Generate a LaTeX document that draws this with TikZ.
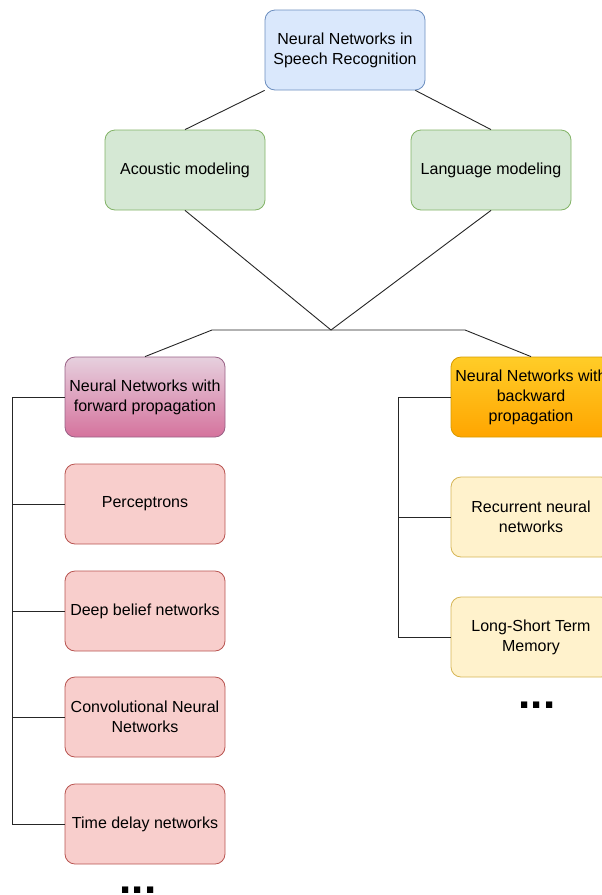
\documentclass[tikz,border=0pt]{standalone}
\usepackage{fontspec}
\setmainfont{Liberation Sans}
\usepackage{xcolor}
\usepackage{tikz}
\usetikzlibrary{positioning}

\definecolor{blueFill}{HTML}{DAE8FC}
\definecolor{blueLine}{HTML}{6C8EBF}
\definecolor{greenFill}{HTML}{D5E8D4}
\definecolor{greenLine}{HTML}{82B366}
\definecolor{pinkTop}{HTML}{E6D0DE}
\definecolor{pinkBottom}{HTML}{D5739D}
\definecolor{pinkLine}{HTML}{996185}
\definecolor{orangeTop}{HTML}{FFCD28}
\definecolor{orangeBottom}{HTML}{FFA500}
\definecolor{orangeLine}{HTML}{D79B00}
\definecolor{redFill}{HTML}{F8CECC}
\definecolor{redLine}{HTML}{B85450}
\definecolor{yellowFill}{HTML}{FFF2CC}
\definecolor{yellowLine}{HTML}{D6B656}

\begin{document}
\begin{tikzpicture}[
        x=1pt, y=-1pt,
        box/.style={draw, rounded corners=10pt, line width=0.8pt, minimum width=160pt, minimum height=80pt, align=center, inner sep=2pt, font=\fontsize{16}{20}\selectfont},
        root/.style={box, fill=blueFill, draw=blueLine},
        task/.style={box, fill=greenFill, draw=greenLine},
        forwardbox/.style={box, top color=pinkTop, bottom color=pinkBottom, draw=pinkLine},
        backwardbox/.style={box, top color=orangeTop, bottom color=orangeBottom, draw=orangeLine},
        fwditem/.style={box, fill=redFill, draw=redLine},
        bwditem/.style={box, fill=yellowFill, draw=yellowLine},
        more/.style={anchor=base, font=\fontsize{44}{44}\selectfont\bfseries},
        link/.style={-, line width=0.9pt, draw=black!85}
    ]
        \path[use as bounding box, clip] (0,0) rectangle (602,895);

        % Top levels
        \node (nnsr) [root] at (345, 50) {Neural Networks in\\Speech Recognition};
        \node (acoustic) [task] at (185, 170) {Acoustic modeling};
        \node (language) [task] at (491, 170) {Language modeling};

        % Branches
        \node (forward) [forwardbox] at (145, 397) {Neural Networks with\\forward propagation};
        \node (backward) [backwardbox] at (531, 397) {Neural Networks with\\backward\\propagation};

        % Forward propagation networks
        \node (perceptrons) [fwditem] at (145, 504) {Perceptrons};
        \node (dbn) [fwditem] at (145, 611) {Deep belief networks};
        \node (cnn) [fwditem] at (145, 717) {Convolutional Neural\\Networks};
        \node (tdnn) [fwditem] at (145, 824) {Time delay networks};
        \node (fwdmore) [more] at (138, 893) {...};

        % Backward propagation networks
        \node (rnn) [bwditem] at (531, 517) {Recurrent neural\\networks};
        \node (lstm) [bwditem] at (531, 637) {Long-Short Term\\Memory};
        \node (bwdmore) [more] at (537, 708) {...};

        % Helper points
        \coordinate (merge) at (331, 330);
        \coordinate (splitL) at (212, 330);
        \coordinate (splitR) at (465, 330);
        \coordinate (fwdbus) at (12, 0);
        \coordinate (bwdbus) at (398, 0);

        % Upper connections
        \draw [link] (nnsr.south west) -- (acoustic.north);
        \draw [link] ([xshift=-10pt]nnsr.south east) -- (language.north);
        \draw [link] (acoustic.south) -- (merge);
        \draw [link] (language.south) -- (merge);
        \draw [link] (forward.north) -- (splitL) -- (splitR) -- (backward.north);

        % Forward bus
        \draw [link] (forward.west) -| (fwdbus |- tdnn.west) -- (tdnn.west);
        \draw [link] (perceptrons.west) -- (perceptrons.west -| fwdbus);
        \draw [link] (dbn.west) -- (dbn.west -| fwdbus);
        \draw [link] (cnn.west) -- (cnn.west -| fwdbus);

        % Backward bus
        \draw [link] (backward.west) -| (bwdbus |- lstm.west) -- (lstm.west);
        \draw [link] (rnn.west) -- (rnn.west -| bwdbus);
    \end{tikzpicture}
\end{document}
